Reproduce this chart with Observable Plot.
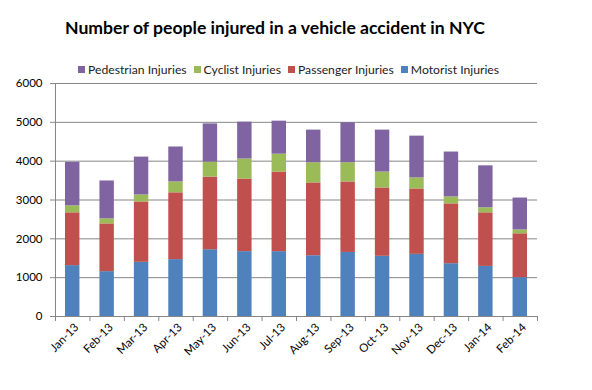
<!DOCTYPE html>
<html><head><meta charset="utf-8">
<script src="https://cdn.jsdelivr.net/npm/d3@7"></script>
<script src="https://cdn.jsdelivr.net/npm/@observablehq/plot@0.6"></script>
<style>
body{margin:0;background:#fff;font-family:Lato,"Open Sans",sans-serif;}
#wrap{position:relative;width:592px;height:390px;overflow:hidden;}
#title{position:absolute;left:65px;top:17px;font-size:17.6px;font-weight:bold;color:#000;white-space:nowrap;}
#legend{position:absolute;left:78px;top:62px;font-size:12.2px;color:#222;white-space:nowrap;display:flex;gap:7px;}
#legend span.item{display:flex;align-items:center;}
#legend i{display:inline-block;width:7px;height:7px;margin-right:3px;}
#chart{position:absolute;left:0;top:66px;}
</style></head>
<body><div id="wrap"><div id="chart"></div><div id="title">Number of people injured in a vehicle accident in NYC</div><div id="legend"></div></div>
<script>
const months = ["Jan-13","Feb-13","Mar-13","Apr-13","May-13","Jun-13","Jul-13","Aug-13","Sep-13","Oct-13","Nov-13","Dec-13","Jan-14","Feb-14"];
const motorist   = [1310,1155,1395,1465,1720,1670,1670,1565,1650,1550,1600,1360,1290,1000];
const passenger  = [1360,1230,1555,1720,1870,1870,2050,1875,1815,1760,1685,1540,1380,1130];
const cyclist    = [ 180, 130, 180, 280, 385, 515, 460, 520, 495, 410, 285, 180, 130, 100];
const pedestrian = [1120, 975, 975, 900, 985, 950, 850, 840,1030,1080,1075,1155,1080, 820];
const seriesNames = ["Motorist Injuries","Passenger Injuries","Cyclist Injuries","Pedestrian Injuries"];
const seriesColors = ["#4F81BD","#C0504D","#9BBB59","#8064A2"];
const yTicks = [0,1000,2000,3000,4000,5000,6000];

const seriesValues = [motorist, passenger, cyclist, pedestrian];
const data = [];
months.forEach((m, i) => seriesValues.forEach((vals, s) => data.push({i, i2: i + 1, month: m, series: seriesNames[s], value: vals[i]})));

const legend = document.getElementById("legend");
[3,2,1,0].forEach(s => {
  const el = document.createElement("span"); el.className = "item";
  el.innerHTML = `<i style="background:${seriesColors[s]}"></i>${seriesNames[s]}`;
  legend.appendChild(el);
});

const centers = months.map((m, i) => i + 0.5);
const bounds = d3.range(months.length + 1);

const chart = Plot.plot({
  width: 592, height: 324,
  marginTop: 17, marginBottom: 74, marginLeft: 55, marginRight: 55,
  style: {fontFamily: "Lato, 'Open Sans', sans-serif", fontSize: "11.5px", color: "#000", background: "transparent"},
  x: {type: "linear", domain: [0, months.length]},
  y: {domain: [0, 6000]},
  color: {domain: seriesNames, range: seriesColors},
  marks: [
    Plot.ruleY(yTicks.filter(d => d > 0), {stroke: "#868686", strokeWidth: 1}),
    Plot.rectY(data, {x1: "i", x2: "i2", y: "value", fill: "series", insetLeft: 10, insetRight: 10, order: seriesNames}),
    Plot.ruleY([0], {stroke: "#868686"}),
    Plot.ruleX([0], {stroke: "#868686"}),
    Plot.axisY({ticks: yTicks, tickSize: 5, tickPadding: 8, stroke: "#868686", tickFormat: d => String(d), label: null, fill: "#000"}),
    Plot.axisX({ticks: bounds, tickSize: 5, stroke: "#868686", tickFormat: () => "", label: null}),
    Plot.axisX({ticks: centers, tickSize: 0, tickPadding: 9, tickRotate: -45, tickFormat: d => months[Math.round(d - 0.5)], label: null, fill: "#000", dx: 4})
  ]
});
document.getElementById("chart").appendChild(chart);
</script></body></html>
